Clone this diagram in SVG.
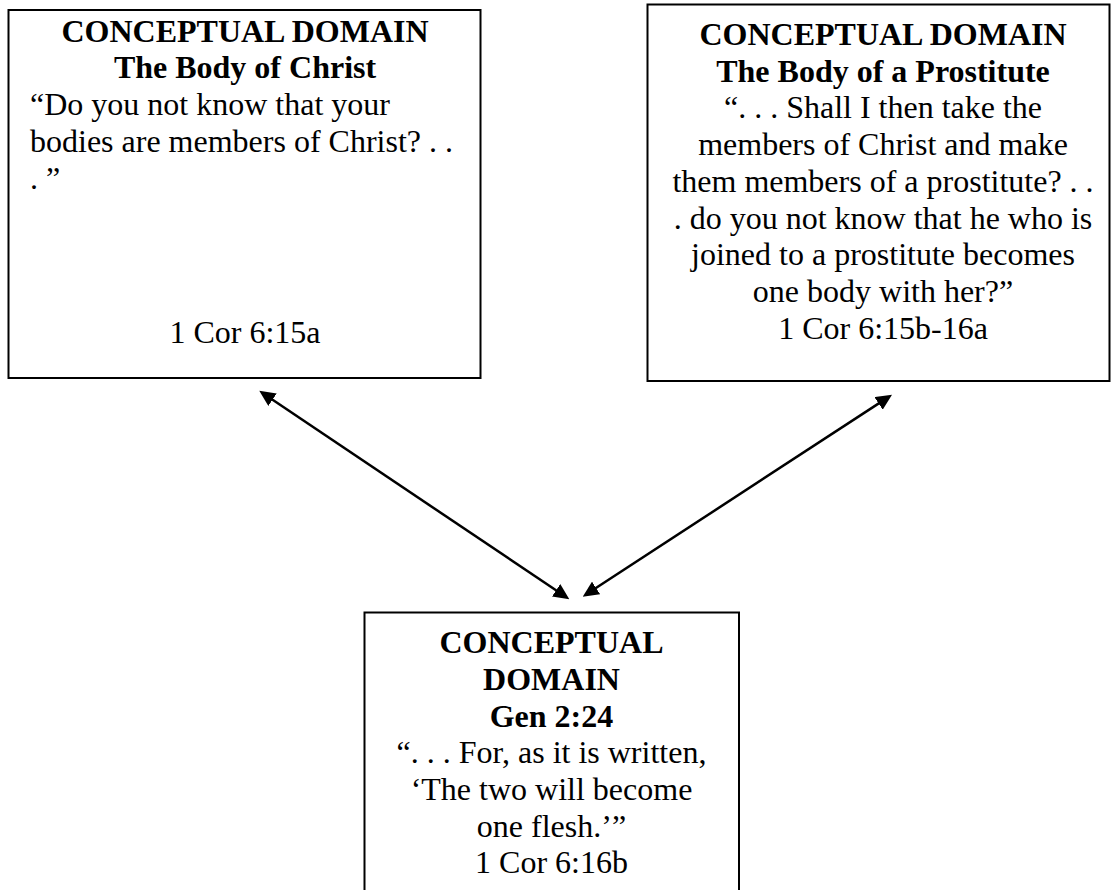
<svg xmlns="http://www.w3.org/2000/svg" width="1111" height="890" viewBox="0 0 1111 890">
  <style>
    .box { fill: #ffffff; stroke: #000000; stroke-width: 2; }
    .title { font-family: "Liberation Serif", "Times New Roman", serif; font-size: 32px; font-weight: bold; fill: #000; text-anchor: middle; }
    .body { font-family: "Liberation Serif", "Times New Roman", serif; font-size: 32px; fill: #000; }
    .mid { text-anchor: middle; }
    .link { stroke: #000; stroke-width: 2.5; fill: none; marker-start: url(#head); marker-end: url(#head); }
  </style>
  <defs>
    <marker id="head" viewBox="0 0 16 15" markerUnits="userSpaceOnUse" markerWidth="16" markerHeight="15" refX="8" refY="7.5" orient="auto-start-reverse">
      <path d="M0,0 L16,7.5 L0,15 z" fill="#000"/>
    </marker>
  </defs>
  <rect width="1111" height="890" fill="#ffffff"/>

  <!-- Domain: The Body of Christ -->
  <g id="body-of-christ">
    <rect class="box" x="8.5" y="10" width="472" height="368"/>
    <text class="title" x="245" y="41.7">CONCEPTUAL DOMAIN</text>
    <text class="title" x="245" y="78.4">The Body of Christ</text>
    <text class="body" x="30" y="115.1">“Do you not know that your</text>
    <text class="body" x="30" y="151.8">bodies are members of Christ? . .</text>
    <text class="body" x="30" y="188.5" xml:space="preserve">. ”</text>
    <text class="body mid" x="245" y="343">1 Cor 6:15a</text>
  </g>

  <!-- Domain: The Body of a Prostitute -->
  <g id="body-of-prostitute">
    <rect class="box" x="647.5" y="4.5" width="462" height="376.5"/>
    <text class="title" x="883" y="45">CONCEPTUAL DOMAIN</text>
    <text class="title" x="883" y="81.7">The Body of a Prostitute</text>
    <text class="body mid" x="883" y="118.4">“. . . Shall I then take the</text>
    <text class="body mid" x="883" y="155.1">members of Christ and make</text>
    <text class="body mid" x="883" y="191.8">them members of a prostitute? . .</text>
    <text class="body mid" x="883" y="228.5">. do you not know that he who is</text>
    <text class="body mid" x="883" y="265.2">joined to a prostitute becomes</text>
    <text class="body mid" x="883" y="301.9">one body with her?”</text>
    <text class="body mid" x="883" y="338.6">1 Cor 6:15b-16a</text>
  </g>

  <!-- Domain: Gen 2:24 -->
  <g id="gen-2-24">
    <rect class="box" x="364.5" y="612.5" width="374.5" height="300"/>
    <text class="title" x="551.5" y="653.3">CONCEPTUAL</text>
    <text class="title" x="551.5" y="690">DOMAIN</text>
    <text class="title" x="551.5" y="726.7">Gen 2:24</text>
    <text class="body mid" x="551.5" y="763.3">“. . . For, as it is written,</text>
    <text class="body mid" x="551.5" y="800">‘The two will become</text>
    <text class="body mid" x="551.5" y="836.7">one flesh.’”</text>
    <text class="body mid" x="551.5" y="873.3">1 Cor 6:16b</text>
  </g>

  <!-- Two-way connectors -->
  <g id="connectors">
    <line class="link" x1="265.9" y1="395.2" x2="562.7" y2="594.8"/>
    <line class="link" x1="885.3" y1="399.1" x2="589.4" y2="592.3"/>
  </g>
</svg>
